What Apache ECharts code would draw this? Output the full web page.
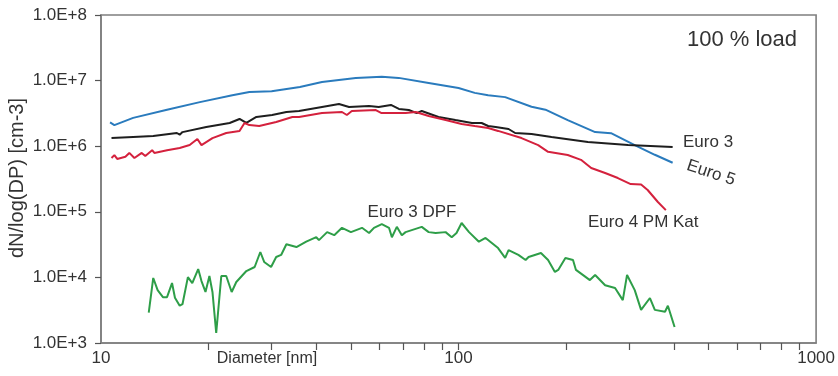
<!DOCTYPE html>
<html>
<head>
<meta charset="utf-8">
<script src="https://cdn.jsdelivr.net/npm/echarts@6/dist/echarts.min.js"></script>
<style>
  html, body { margin: 0; padding: 0; background: #fff; }
  #main { width: 838px; height: 376px; }
</style>
</head>
<body>
<div id="main"></div>
<script>
// diameter [nm], dN/log(DP) [cm-3]
const euro5 = [
  [10.6, 2.3e6], [10.9, 2.1e6], [12.3, 2.7e6], [15.3, 3.6e6], [18.9, 4.7e6],
  [23.3, 6.0e6], [26, 6.7e6], [30, 6.9e6], [36, 8.0e6], [41.5, 9.5e6],
  [51.6, 1.1e7], [61, 1.14e7], [68, 1.1e7], [82.5, 9.2e6], [100, 7.7e6],
  [111, 6.5e6], [121, 6.0e6], [135, 5.6e6], [160, 4.0e6], [175, 3.6e6],
  [202, 2.5e6], [241, 1.64e6], [267, 1.58e6], [311, 1.04e6], [354, 7.4e5],
  [397, 5.6e5]
]
const euro3 = [
  [10.7, 1.33e6], [12.3, 1.38e6], [14, 1.43e6], [16.3, 1.59e6], [16.6, 1.5e6],
  [16.9, 1.64e6], [19.7, 1.96e6], [22.9, 2.26e6], [24.4, 2.6e6], [25.5, 2.26e6],
  [27.2, 2.79e6], [30.1, 2.99e6], [33, 3.32e6], [35.8, 3.44e6], [41.5, 3.96e6],
  [46.3, 4.4e6], [49.4, 3.96e6], [56.2, 4.1e6], [59.8, 3.96e6], [64.7, 4.25e6],
  [68.1, 3.7e6], [72.6, 3.56e6], [76.4, 3.2e6], [78.9, 3.44e6], [87.9, 2.79e6],
  [98, 2.5e6], [109, 2.26e6], [116, 2.26e6], [121, 2.03e6], [127, 1.96e6],
  [138, 1.83e6], [144, 1.59e6], [160, 1.53e6], [182, 1.38e6], [230, 1.16e6],
  [298, 1.04e6], [397, 9.7e5]
]
const euro4 = [
  [10.7, 6.6e5], [10.9, 7.3e5], [11.1, 6.4e5], [11.7, 6.9e5], [12, 7.9e5],
  [12.4, 6.6e5], [13, 7.9e5], [13.3, 7.1e5], [13.9, 8.7e5], [14.1, 7.9e5],
  [15.3, 8.7e5], [16.6, 9.4e5], [17.7, 1.04e6], [18.6, 1.29e6], [19.1, 1.04e6],
  [20.5, 1.33e6], [22.4, 1.59e6], [24.4, 1.71e6], [25.2, 2.26e6], [26, 2.1e6],
  [27.7, 2.03e6], [30.9, 2.34e6], [34.3, 2.79e6], [35.8, 2.79e6], [41.5, 3.2e6],
  [47.2, 3.32e6], [48.7, 2.99e6], [50.3, 3.44e6], [58.7, 3.56e6], [60.9, 3.2e6],
  [71.1, 3.2e6], [75.9, 3.32e6], [82.5, 2.88e6], [92, 2.5e6], [102, 2.18e6],
  [111, 2.03e6], [121, 1.89e6], [129, 1.71e6], [150, 1.33e6], [167, 1.04e6],
  [178, 8.2e5], [202, 7.35e5], [220, 6.2e5], [235, 4.65e5], [257, 3.9e5],
  [279, 3.27e5], [303, 2.65e5], [324, 2.6e5], [338, 2.15e5], [361, 1.41e5],
  [380, 1.06e5]
]
const euro3dpf = [
  [13.6, 2.9e3], [14, 9.8e3], [14.4, 6.4e3], [14.9, 5.0e3], [15.3, 5.0e3],
  [15.8, 8.2e3], [16.1, 4.9e3], [16.6, 3.7e3], [16.9, 3.9e3], [17.5, 1.01e4],
  [18, 8.2e3], [18.7, 1.34e4], [19.1, 8.8e3], [19.6, 6.0e3], [20.1, 1.05e4],
  [20.5, 6.0e3], [21, 1.42e3], [21.7, 1.05e4], [22.4, 1.05e4], [23.2, 6.0e3],
  [23.9, 8.5e3], [25.5, 1.25e4], [26.9, 1.44e4], [27.9, 2.44e4], [28.6, 1.72e4],
  [29.9, 1.44e4], [30.9, 2.05e4], [31.9, 2.2e4], [33, 3.2e4], [35.2, 2.9e4],
  [37.5, 3.5e4], [40, 4.1e4], [40.7, 3.7e4], [42.9, 4.9e4], [44.9, 4.4e4],
  [47.2, 5.7e4], [50, 4.9e4], [53.7, 5.7e4], [56.2, 4.75e4], [58, 5.7e4],
  [61, 6.5e4], [63.9, 5.7e4], [65.1, 4.1e4], [67.2, 5.9e4], [69.4, 4.4e4],
  [71.1, 4.9e4], [78.9, 5.9e4], [82.5, 4.9e4], [86.3, 4.75e4], [92, 4.9e4],
  [95.7, 4.1e4], [98.7, 4.75e4], [102, 6.75e4], [107, 4.9e4], [114, 3.5e4],
  [119, 4.0e4], [129, 2.8e4], [135, 1.98e4], [138, 2.6e4], [147, 2.2e4],
  [154, 1.84e4], [157, 2.05e4], [170, 2.36e4], [178, 1.84e4], [186, 1.21e4],
  [190, 1.3e4], [199, 1.98e4], [209, 1.84e4], [213, 1.3e4], [227, 1.01e4],
  [233, 9.1e3], [241, 1.09e4], [257, 7.6e3], [274, 6.9e3], [288, 4.5e3],
  [296, 1.09e4], [311, 6.4e3], [324, 3.2e3], [343, 4.85e3], [354, 3.2e3],
  [378, 3.0e3], [385, 3.7e3], [402, 1.75e3]
]
const xLabelValues = [10, 100, 1000]
const xTickValues = [20, 30, 40, 50, 60, 70, 80, 90, 100, 200, 300, 400, 500, 600, 700, 800, 900]
const yTickValues = [1e3, 1e4, 1e5, 1e6, 1e7, 1e8]

const font = 'Liberation Sans, Arial, sans-serif'
const textColor = '#333'

const chart = echarts.init(document.getElementById('main'))
chart.setOption({
  animation: false,
  backgroundColor: '#fff',
  grid: {
    left: 101,
    right: 19,
    top: 15,
    bottom: 33,
    show: true,
    borderColor: '#7f7f7f',
    borderWidth: 1.6
  },
  xAxis: {
    type: 'log',
    min: 10,
    max: 1000,
    axisLine: { lineStyle: { color: '#7f7f7f', width: 1.6 } },
    axisTick: {
      show: true,
      length: 7,
      customValues: xTickValues,
      lineStyle: { color: '#555', width: 1.2 }
    },
    axisLabel: {
      customValues: xLabelValues,
      margin: 7,
      color: textColor,
      fontSize: 17,
      fontFamily: font,
      formatter: v => String(Math.round(v))
    },
    splitLine: { show: false },
    minorTick: { show: false }
  },
  yAxis: {
    type: 'log',
    min: 1e3,
    max: 1e8,
    axisLine: { show: true, lineStyle: { color: '#7f7f7f', width: 1.6 } },
    axisTick: {
      show: true,
      length: 6,
      customValues: yTickValues,
      lineStyle: { color: '#555', width: 1.2 }
    },
    axisLabel: {
      customValues: yTickValues,
      margin: 14,
      color: textColor,
      fontSize: 17,
      fontFamily: font,
      formatter: v => '1.0E+' + Math.round(Math.log10(v))
    },
    splitLine: { show: false }
  },
  series: [
    {
      name: 'Euro 5', type: 'line', data: euro5, symbol: 'none',
      lineStyle: { color: '#2a7bbd', width: 2 }
    },
    {
      name: 'Euro 3', type: 'line', data: euro3, symbol: 'none',
      lineStyle: { color: '#1e1e1e', width: 2 }
    },
    {
      name: 'Euro 4 PM Kat', type: 'line', data: euro4, symbol: 'none',
      lineStyle: { color: '#d4213d', width: 2 }
    },
    {
      name: 'Euro 3 DPF', type: 'line', data: euro3dpf, symbol: 'none',
      lineStyle: { color: '#2e9e48', width: 2 }
    }
  ],
  graphic: [
    { type: 'text', x: 742, y: 40, style: { text: '100 % load', font: '22px ' + font, fill: textColor, align: 'center', verticalAlign: 'middle' } },
    { type: 'text', x: 683, y: 142, style: { text: 'Euro 3', font: '17px ' + font, fill: textColor, align: 'left', verticalAlign: 'middle' } },
    { type: 'text', x: 711, y: 173, rotation: -0.32, style: { text: 'Euro 5', font: '17px ' + font, fill: textColor, align: 'center', verticalAlign: 'middle' } },
    { type: 'text', x: 588, y: 222, style: { text: 'Euro 4 PM Kat', font: '17px ' + font, fill: textColor, align: 'left', verticalAlign: 'middle' } },
    { type: 'text', x: 412, y: 212, style: { text: 'Euro 3 DPF', font: '17px ' + font, fill: textColor, align: 'center', verticalAlign: 'middle' } },
    { type: 'text', x: 267, y: 359, style: { text: 'Diameter [nm]', font: '16px ' + font, fill: textColor, align: 'center', verticalAlign: 'middle' } },
    { type: 'text', x: 17, y: 178, rotation: Math.PI / 2, style: { text: 'dN/log(DP) [cm-3]', font: '20px ' + font, fill: textColor, align: 'center', verticalAlign: 'middle' } }
  ]
})
</script>
</body>
</html>
